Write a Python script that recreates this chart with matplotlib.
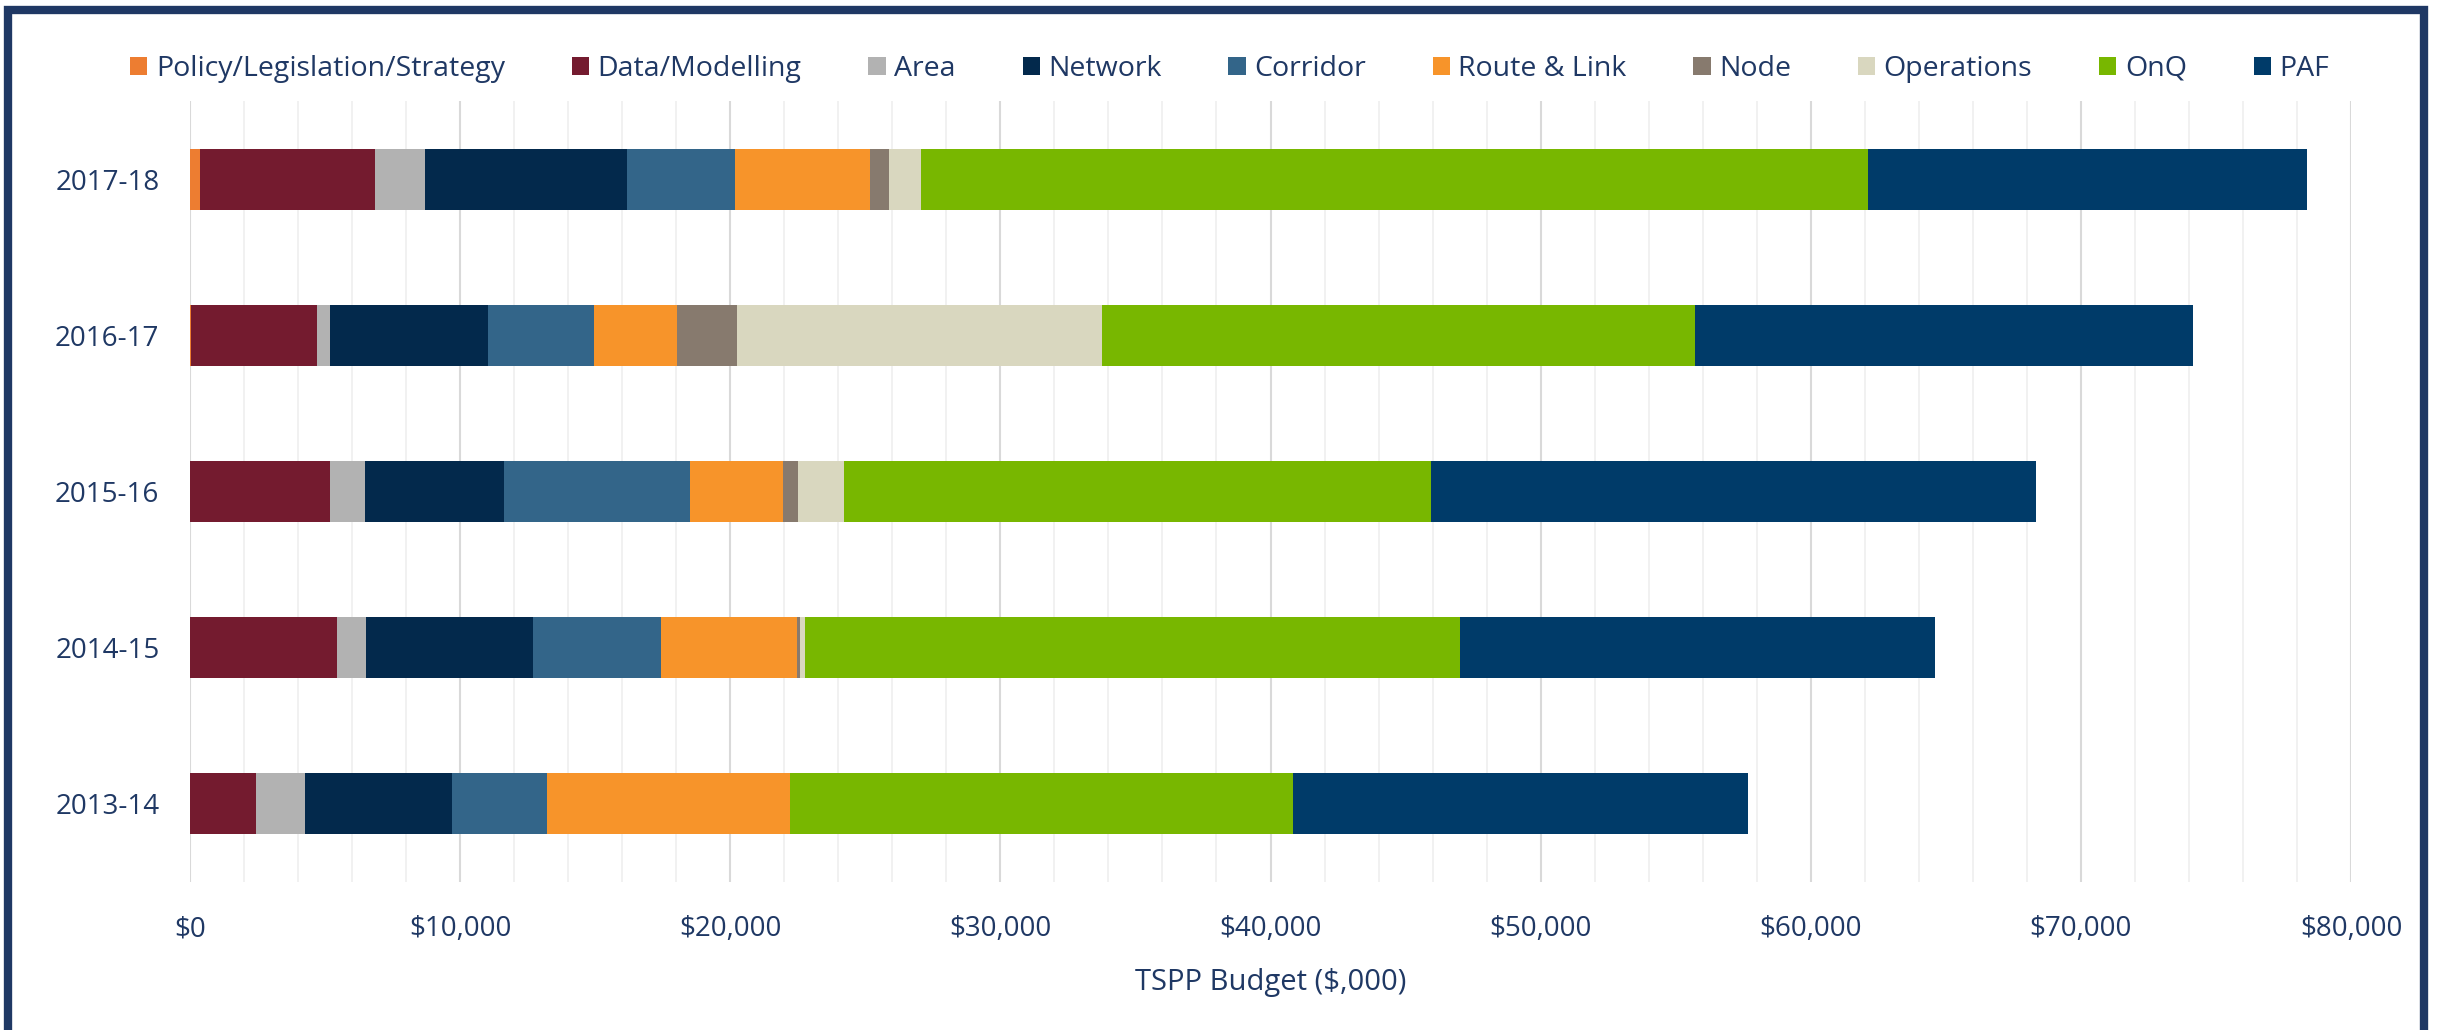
import matplotlib.pyplot as plt
from matplotlib.patches import Rectangle
from matplotlib.ticker import FuncFormatter, MultipleLocator

# TSPP budget by year ($,000)
years = ['2013-14', '2014-15', '2015-16', '2016-17', '2017-18']
categories = ['Policy/Legislation/Strategy', 'Data/Modelling', 'Area', 'Network',
              'Corridor', 'Route & Link', 'Node', 'Operations', 'OnQ', 'PAF']

policy = [0, 0, 0, 40, 380]
data_modelling = [2450, 5450, 5190, 4680, 6470]
area = [1810, 1060, 1300, 450, 1850]
network = [5440, 6190, 5150, 5870, 7470]
corridor = [3530, 4730, 6870, 3900, 4020]
route_link = [8980, 5040, 3450, 3100, 5000]
node = [0, 130, 550, 2220, 700]
operations = [0, 180, 1690, 13500, 1170]
onq = [18620, 24230, 21750, 21940, 35060]
paf = [16830, 17590, 22380, 18450, 16260]

series = [policy, data_modelling, area, network, corridor,
          route_link, node, operations, onq, paf]
colors = ['#ED7D31', '#741B2F', '#B2B2B2', '#03294C', '#336589',
          '#F7942A', '#877A6E', '#D9D7BF', '#78B700', '#003B69']

txt = '#1F3864'
plt.rcParams['font.family'] = ['Open Sans', 'DejaVu Sans']

fig = plt.figure(figsize=(24.4, 10.3), dpi=100)
ax = fig.add_axes([190 / 2440, 1 - 882 / 1030, (2351 - 190) / 2440, (882 - 101) / 1030])

left = [0] * len(years)
handles = []
for name, vals, c in zip(categories, series, colors):
    b = ax.barh(years, vals, left=left, height=0.39, color=c, label=name, zorder=3)
    handles.append(b)
    left = [l + v for l, v in zip(left, vals)]

ax.set_xlim(0, 80000)
ax.set_ylim(-0.5, 4.5)
ax.xaxis.set_major_locator(MultipleLocator(10000))
ax.xaxis.set_minor_locator(MultipleLocator(2000))
ax.xaxis.set_major_formatter(FuncFormatter(lambda v, p: f'${v:,.0f}'))
ax.grid(axis='x', which='major', color='#D9D9D9', lw=1.5, zorder=0)
ax.grid(axis='x', which='minor', color='#EFEFEF', lw=1.2, zorder=0)
for s in ax.spines.values():
    s.set_visible(False)
ax.tick_params(axis='both', which='both', length=0, colors=txt, labelsize=20)
ax.tick_params(axis='y', pad=22)
ax.tick_params(axis='x', pad=24)
ax.set_xlabel('TSPP Budget ($,000)', color=txt, fontsize=21, labelpad=18)

fig.legend(handles=handles, loc='center', bbox_to_anchor=(0.504, 1 - 69 / 1030), ncol=10,
           frameon=False, fontsize=20.5, labelcolor=txt, handlelength=0.6,
           handleheight=0.6, handletextpad=0.3, columnspacing=2.35)

# outer frame (bottom edge cut off)
fig.patches.append(Rectangle((8 / 2440, -0.05), (2424 - 8) / 2440, 1.05 - 10 / 1030,
                             transform=fig.transFigure, fill=False,
                             edgecolor='#1F3864', lw=6))

fig.savefig('out.png', dpi=100, facecolor='white')
